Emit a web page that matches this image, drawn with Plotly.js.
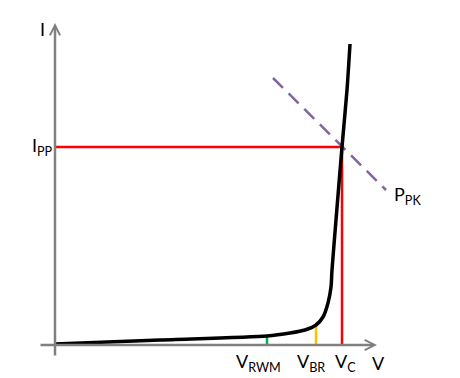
<!DOCTYPE html>
<html>
<head>
<meta charset="utf-8">
<script src="https://cdn.plot.ly/plotly-3.0.1.min.js"></script>
<style>html,body{margin:0;padding:0;background:#fff;}#chart{width:460px;height:378px;}</style>
</head>
<body>
<div id="chart"></div>
<script>
// I-V characteristic (arbitrary units)
var curveV = [0, 105, 212, 235, 250, 261, 268, 273, 276, 277, 281, 287, 292, 295];
var curveI = [1, 5, 9, 12, 15, 20, 28, 42, 58, 75, 125, 198, 255, 301];

var vRWM = 212, iRWM = 9;
var vBR = 261, iBR = 20;
var vC = 287, iPP = 198;

var pkV = [218, 331];
var pkI = [267, 155];

var axisLabels = {v: 'V', i: 'I', ipp: 'I<sub>PP</sub>', ppk: 'P<sub>PK</sub>',
  vrwm: 'V<sub>RWM</sub>', vbr: 'V<sub>BR</sub>', vc: 'V<sub>C</sub>'};

var traces = [
  {x: [vRWM, vRWM], y: [0, iRWM], mode: 'lines', line: {color: '#00B050', width: 2.5}},
  {x: [vBR, vBR], y: [0, iBR], mode: 'lines', line: {color: '#FFC000', width: 2.5}},
  {x: [0, vC, vC], y: [iPP, iPP, 0], mode: 'lines', line: {color: '#FF0000', width: 2.5}},
  {x: pkV, y: pkI, mode: 'lines', line: {color: '#8064A2', width: 2.5, dash: '14px,8px'}},
  {x: curveV, y: curveI, mode: 'lines', line: {color: '#000000', width: 3.5, shape: 'spline', smoothing: 0.7}}
];

var font = {family: 'Lato, "Open Sans", sans-serif', size: 18, color: '#000'};
function lbl(x, y, t, xa, ya) {
  return {x: x, y: y, xref: 'x', yref: 'y', text: t, showarrow: false, font: font,
    xanchor: xa || 'center', yanchor: ya || 'middle'};
}
var gray = '#808080';
var annotations = [
  {x: 322, y: 0, ax: -16, ay: 0, axref: 'x', ayref: 'y', xref: 'x', yref: 'y', text: '',
   showarrow: true, arrowhead: 5, arrowsize: 0.8, arrowwidth: 2.5, arrowcolor: gray},
  {x: 0, y: 322, ax: 0, ay: -12, axref: 'x', ayref: 'y', xref: 'x', yref: 'y', text: '',
   showarrow: true, arrowhead: 5, arrowsize: 0.8, arrowwidth: 2.5, arrowcolor: gray},
  lbl(-13, 316, axisLabels.i),
  lbl(-13, 199, axisLabels.ipp),
  lbl(203, -17, axisLabels.vrwm),
  lbl(256, -17, axisLabels.vbr),
  lbl(290, -17, axisLabels.vc),
  lbl(323, -18, axisLabels.v),
  lbl(352, 150, axisLabels.ppk)
];

var layout = {
  width: 460, height: 378,
  margin: {l: 0, r: 0, t: 0, b: 0},
  paper_bgcolor: '#fff', plot_bgcolor: '#fff',
  showlegend: false,
  xaxis: {range: [-55, 405], visible: false, fixedrange: true},
  yaxis: {range: [-33, 345], visible: false, fixedrange: true},
  annotations: annotations
};
Plotly.newPlot('chart', traces, layout, {displayModeBar: false, staticPlot: true});
</script>
</body>
</html>
